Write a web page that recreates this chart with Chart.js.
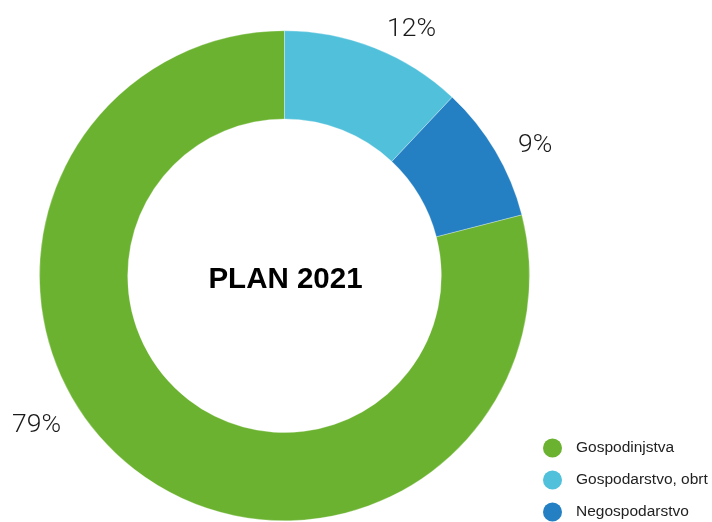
<!DOCTYPE html>
<html>
<head>
<meta charset="utf-8">
<script src="https://cdn.jsdelivr.net/npm/chart.js@4"></script>
<style>
  html, body { margin: 0; padding: 0; background: #ffffff; }
  #wrap { position: relative; width: 712px; height: 522px; }
</style>
</head>
<body>
<div id="wrap"><canvas id="c" width="712" height="522"></canvas></div>
<script>
// ---- data ----
const categories = ['Gospodinjstva', 'Gospodarstvo, obrt', 'Negospodarstvo'];
const shares = [79, 12, 9];
const centerTitle = 'PLAN 2021';

// ---- style ----
const sliceColors = ['#6AB22F', '#50C0DB', '#2480C3'];
const labelRadiusGap = [43, 35, 39];      // px beyond outer radius
const labelAngleShift = [21.6, 5.4, 2.6];  // degrees clockwise from slice middle
const labelDrop = 3;                       // px baseline correction

const percentLabels = {
  id: 'percentLabels',
  afterDatasetsDraw(chart) {
    const ctx = chart.ctx;
    const meta = chart.getDatasetMeta(0);
    ctx.save();
    ctx.font = '300 26.5px "Roboto", "Liberation Sans", sans-serif';
    ctx.fillStyle = '#1a1a1a';
    ctx.textAlign = 'center';
    ctx.textBaseline = 'middle';
    meta.data.forEach((arc, i) => {
      const p = arc.getProps(['x', 'y', 'startAngle', 'endAngle', 'outerRadius'], true);
      const a = (p.startAngle + p.endAngle) / 2 + labelAngleShift[i] * Math.PI / 180;
      const r = p.outerRadius + labelRadiusGap[i];
      ctx.fillText(shares[i] + '%', p.x + Math.cos(a) * r, p.y + Math.sin(a) * r + labelDrop);
    });
    ctx.restore();
  }
};

const centerText = {
  id: 'centerText',
  afterDraw(chart) {
    const ctx = chart.ctx;
    const arc = chart.getDatasetMeta(0).data[0];
    ctx.save();
    ctx.font = 'bold 29.5px "Liberation Sans", Arial, sans-serif';
    ctx.fillStyle = '#000000';
    ctx.textAlign = 'center';
    ctx.textBaseline = 'alphabetic';
    ctx.fillText(centerTitle, arc.x + 1, arc.y + 12.5);
    ctx.restore();
  }
};

const sideLegend = {
  id: 'sideLegend',
  afterDraw(chart) {
    const ctx = chart.ctx;
    ctx.save();
    ctx.font = '15.5px "Liberation Sans", Arial, sans-serif';
    ctx.textAlign = 'left';
    ctx.textBaseline = 'middle';
    categories.forEach((name, i) => {
      const y = 448 + i * 32;
      ctx.beginPath();
      ctx.arc(552.5, y, 9.5, 0, Math.PI * 2);
      ctx.fillStyle = sliceColors[i];
      ctx.fill();
      ctx.fillStyle = '#222222';
      ctx.fillText(name, 576, y);
    });
    ctx.restore();
  }
};

new Chart(document.getElementById('c'), {
  type: 'doughnut',
  data: {
    labels: categories,
    datasets: [{
      data: shares,
      backgroundColor: sliceColors,
      borderColor: 'rgba(255,255,255,0.6)',
      borderWidth: 0.5,
      hoverOffset: 0
    }]
  },
  options: {
    responsive: false,
    animation: false,
    devicePixelRatio: 1,
    rotation: 75.6,
    cutout: '64%',
    layout: { padding: { top: 30.5, bottom: 1, left: 38.5, right: 181.5 } },
    plugins: {
      legend: { display: false },
      tooltip: { enabled: false }
    }
  },
  plugins: [percentLabels, centerText, sideLegend]
});
</script>
</body>
</html>
